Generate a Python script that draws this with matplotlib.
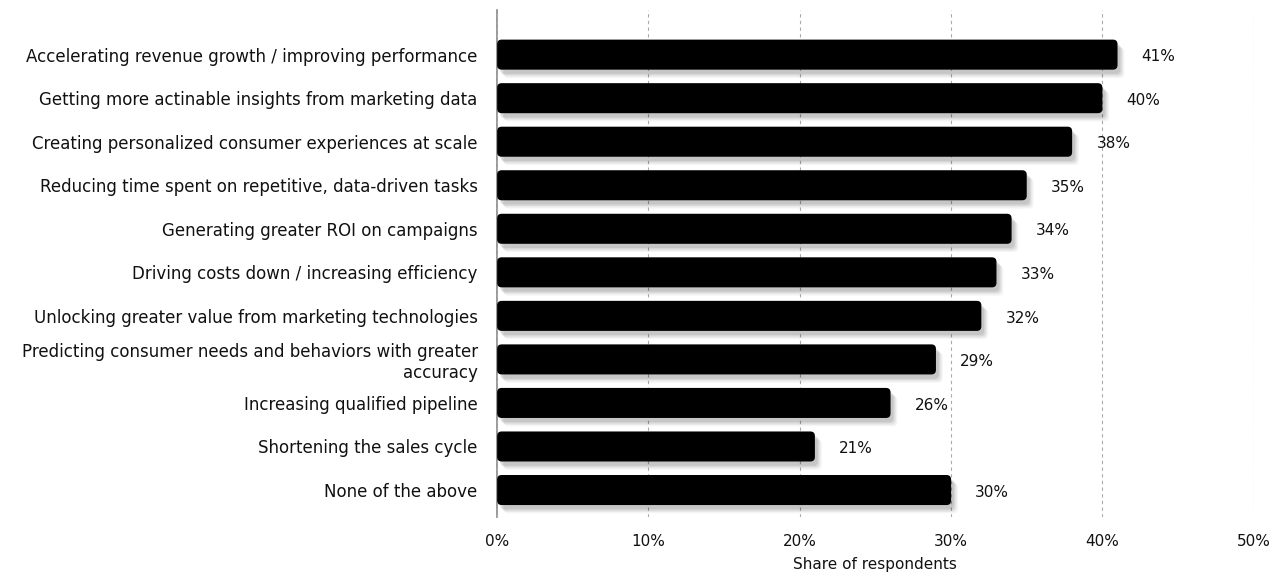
import matplotlib.pyplot as plt
import matplotlib.patheffects as pe
from matplotlib.patches import FancyBboxPatch

# Survey answers and share of respondents (%)
categories = [
    "Accelerating revenue growth / improving performance",
    "Getting more actinable insights from marketing data",
    "Creating personalized consumer experiences at scale",
    "Reducing time spent on repetitive, data-driven tasks",
    "Generating greater ROI on campaigns",
    "Driving costs down / increasing efficiency",
    "Unlocking greater value from marketing technologies",
    "Predicting consumer needs and behaviors with greater\naccuracy",
    "Increasing qualified pipeline",
    "Shortening the sales cycle",
    "None of the above",
]
values = [41, 40, 38, 35, 34, 33, 32, 29, 26, 21, 30]
x_ticks = [0, 10, 20, 30, 40, 50]

plt.rcParams['font.family'] = ['DejaVu Sans']
fig = plt.figure(figsize=(12.78, 5.76), dpi=100)
ax = fig.add_axes([0.389, 0.1024, 0.592, 0.8806])

pos = list(range(len(categories)))
bars = ax.barh(pos, values, height=0.69, color='black')

ax.set_xlim(0, 50)
ax.set_ylim(10.62, -1.03)

# swap plain bars for rounded ones with a soft drop shadow
shadow = [
    pe.SimplePatchShadow(offset=(5, -6), shadow_rgbFace='#000000', alpha=0.04),
    pe.SimplePatchShadow(offset=(4, -5), shadow_rgbFace='#000000', alpha=0.05),
    pe.SimplePatchShadow(offset=(3, -4), shadow_rgbFace='#000000', alpha=0.07),
    pe.SimplePatchShadow(offset=(2, -3), shadow_rgbFace='#000000', alpha=0.08),
    pe.Normal(),
]
for b in bars:
    x, y = b.get_x(), b.get_y()
    w, h = b.get_width(), b.get_height()
    b.set_visible(False)
    rp = FancyBboxPatch((x, y), w, h,
                        boxstyle="round,pad=0,rounding_size=0.3",
                        mutation_aspect=0.35,
                        facecolor='black', edgecolor='none', zorder=3)
    rp.set_path_effects(shadow)
    ax.add_patch(rp)

for p, v in zip(pos, values):
    ax.text(v + 1.6, p + 0.05, f"{v}%", va='center', ha='left', fontsize=11, color='#111111')

ax.set_yticks(pos)
ax.set_yticklabels(categories, fontsize=12, color='#111111')
ax.tick_params(axis='y', length=0, pad=14)

ax.set_xticks(x_ticks)
ax.set_xticklabels([f"{t}%" for t in x_ticks], fontsize=11, color='#111111')
ax.tick_params(axis='x', length=0, pad=12)
ax.set_xlabel("Share of respondents", fontsize=11, color='#111111', labelpad=6)

ax.grid(axis='x', linestyle=(0, (3, 3)), color='#aaaaaa', linewidth=0.8, zorder=0)
ax.set_axisbelow(True)
for s in ['top', 'right', 'bottom']:
    ax.spines[s].set_visible(False)
ax.spines['left'].set_color('#888888')
ax.spines['left'].set_linewidth(1.2)
ax.spines['left'].set_zorder(0.5)

fig.savefig("out.png", dpi=100)
